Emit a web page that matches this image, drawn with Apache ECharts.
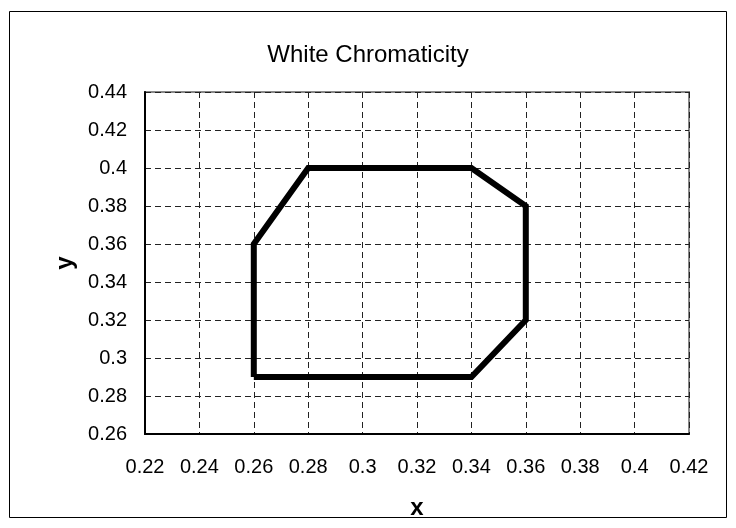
<!DOCTYPE html>
<html>
<head>
    <meta charset="utf-8">
    <title>White Chromaticity</title>
    <script src="https://cdn.jsdelivr.net/npm/echarts@6/dist/echarts.min.js"></script>
    <style>
        html, body { margin: 0; padding: 0; background: #fff; }
        #chart_box { width: 736px; height: 528px; }
    </style>
</head>
<body>
    <div id="chart_box"></div>
    <script>
        // polygon corners (x, y), closed
        var xVals = [0.26, 0.26, 0.28, 0.34, 0.36, 0.36, 0.34, 0.26];
        var yVals = [0.29, 0.36, 0.40, 0.40, 0.38, 0.32, 0.29, 0.29];
        var xRange = [0.22, 0.42];
        var yRange = [0.26, 0.44];
        var step = 0.02;

        var pts = xVals.map(function (x, i) { return [x, yVals[i]]; });

        var myChart = echarts.init(document.getElementById('chart_box'));
        var fontFam = '"Liberation Sans", Arial, sans-serif';

        var option = {
            animation: false,
            backgroundColor: '#fff',
            textStyle: { fontFamily: fontFam },
            graphic: [{
                type: 'rect',
                shape: { x: 9.5, y: 11.5, width: 717, height: 506 },
                style: { fill: 'none', stroke: '#000', lineWidth: 1 }
            }],
            title: {
                text: 'White Chromaticity',
                left: 'center',
                top: 38,
                textStyle: { color: '#000', fontSize: 24, fontWeight: 'normal', fontFamily: fontFam }
            },
            grid: {
                left: 145, right: 47, top: 92, bottom: 94,
                show: true, borderColor: '#888', borderWidth: 2
            },
            xAxis: {
                type: 'value',
                min: xRange[0], max: xRange[1], interval: step,
                name: 'x', nameLocation: 'middle', nameGap: 62,
                nameTextStyle: { color: '#000', fontSize: 24, fontWeight: 'bold', fontFamily: fontFam },
                axisLine: { show: true, onZero: false, lineStyle: { color: '#000', width: 2 } },
                axisTick: { show: false },
                axisLabel: {
                    color: '#000', fontSize: 20, margin: 23, fontFamily: fontFam,
                    formatter: function (v) { return String(+v.toFixed(2)); }
                },
                splitLine: { show: true, lineStyle: { color: '#222', width: 1, type: [6, 4] } }
            },
            yAxis: {
                type: 'value',
                min: yRange[0], max: yRange[1], interval: step,
                name: 'y', nameLocation: 'middle', nameGap: 67, nameRotate: 90,
                nameTextStyle: { color: '#000', fontSize: 24, fontWeight: 'bold', fontFamily: fontFam },
                axisLine: { show: true, onZero: false, lineStyle: { color: '#000', width: 2 } },
                axisTick: { show: false },
                axisLabel: {
                    color: '#000', fontSize: 20, margin: 18, fontFamily: fontFam,
                    formatter: function (v) { return String(+v.toFixed(2)); }
                },
                splitLine: { show: true, lineStyle: { color: '#222', width: 1, type: [6, 4] } }
            },
            series: [{
                type: 'line',
                data: pts,
                showSymbol: false,
                symbol: 'none',
                lineStyle: { color: '#000', width: 6, join: 'miter' }
            }]
        };
        myChart.setOption(option);
    </script>
</body>
</html>
